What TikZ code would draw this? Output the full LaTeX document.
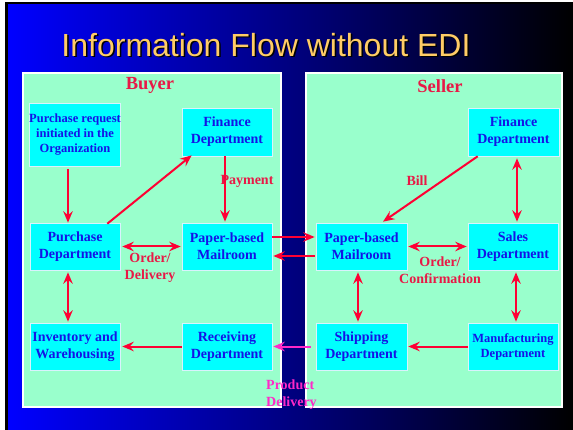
\documentclass[tikz,border=0pt]{standalone}
\usepackage{fontspec}
\setmainfont{Liberation Serif}
\newfontfamily\titlefont{Liberation Sans}
\usetikzlibrary{arrows.meta}
\definecolor{mint}{RGB}{153,255,204}
\definecolor{boxcyan}{RGB}{0,255,255}
\definecolor{txtblue}{RGB}{20,20,230}
\definecolor{lblred}{RGB}{232,25,70}
\definecolor{arrred}{RGB}{255,0,51}
\definecolor{prodmag}{RGB}{255,40,200}
\definecolor{titleyel}{RGB}{255,204,102}
\tikzset{
  panel/.style={draw=white, line width=2pt, fill=mint},
  dept/.style={draw=white!85!cyan, line width=0.6pt, fill=boxcyan, text=txtblue, font=\bfseries\fontsize{14}{17}\selectfont, align=center, inner sep=0pt, minimum width=90pt, minimum height=47pt},
  smalldept/.style={dept, font=\bfseries\fontsize{12.5}{15}\selectfont},
  flow/.style={draw=arrred, line width=2pt, -{Stealth[length=11.5pt,width=9.5pt,inset=4pt]}},
  bflow/.style={flow, {Stealth[length=11.5pt,width=9.5pt,inset=4pt]}-{Stealth[length=11.5pt,width=9.5pt,inset=4pt]}},
  pflow/.style={flow, draw=prodmag},
  lbl/.style={text=lblred, font=\bfseries\fontsize{14}{17}\selectfont, align=center, inner sep=0pt},
  side/.style={text=lblred, font=\bfseries\fontsize{18.5}{20}\selectfont, inner sep=0pt}
}
\begin{document}
\begin{tikzpicture}[x=1pt,y=-1pt]
\useasboundingbox (0,0) rectangle (573,430);
\fill[white] (0,0) rectangle (573,430);
\fill[black] (5,2) rectangle (573,430);
\shade[left color=blue, right color=black] (8,5) rectangle (573,430);
% title with drop shadow
\node[text=titleyel, font=\titlefont\fontsize{32}{36}\selectfont] (title) at (266,45) {\rlap{\raisebox{-1.5pt}[0pt][0pt]{\hspace*{1.5pt}\textcolor{black}{Information Flow without EDI}}}Information Flow without EDI};
% panels
\draw[panel] (23,73) rectangle (281,407);
\draw[panel] (306,73) rectangle (562,407);
\node[side] (buyer) at (150,85) {Buyer};
\node[side] (seller) at (440,86) {Seller};
% buyer boxes
\node[smalldept, minimum height=63pt] (preq) at (75,134.5) {Purchase request\\initiated in the\\Organization};
\node[dept, minimum height=48pt] (bfin) at (227,132) {Finance\\Department};
\node[dept] (bpur) at (75,246.5) {Purchase\\Department};
\node[dept] (bmail) at (227,246.5) {Paper-based\\Mailroom};
\node[dept] (binv) at (75,346.5) {Inventory and\\Warehousing};
\node[dept] (brec) at (227,346.5) {Receiving\\Department};
% seller boxes
\node[dept, minimum width=91pt, minimum height=48pt] (sfin) at (513.5,132) {Finance\\Department};
\node[dept, minimum width=91pt] (smail) at (361.5,246.5) {Paper-based\\Mailroom};
\node[dept] (ssales) at (513,246.5) {Sales\\Department};
\node[dept, minimum width=91pt] (sship) at (361.5,346.5) {Shipping\\Department};
\node[smalldept] (smanu) at (513,346.5) {Manufacturing\\Department};
% buyer arrows
\draw[flow, shorten <=3pt] ([xshift=-7pt]preq.south) -- ([xshift=-7pt]bpur.north);
\draw[flow] ([xshift=-13pt,yshift=-1pt]bpur.north east) -- ([xshift=10pt,yshift=1pt]bfin.south west);
\draw[flow] ([xshift=-2pt]bfin.south) -- ([xshift=-2pt,yshift=1pt]bmail.north);
\draw[bflow, shorten <=2pt, shorten >=1pt] (bpur.east) -- (bmail.west);
\draw[bflow, shorten <=2pt, shorten >=1pt] ([xshift=-7pt]bpur.south) -- ([xshift=-7pt]binv.north);
\draw[flow, shorten >=2pt] (brec.west) -- (binv.east);
% cross arrows
\draw[flow] ([yshift=9.5pt]bmail.east) -- ([yshift=9.5pt,xshift=-1pt]smail.west);
\draw[flow, shorten >=1pt] ([yshift=-9.5pt,xshift=-1pt]smail.west) -- ([yshift=-9.5pt]bmail.east);
\draw[pflow, shorten <=5pt, shorten >=1pt] (sship.west) -- (brec.east);
% seller arrows
\draw[flow] ([xshift=10pt]sfin.south west) -- ([xshift=21.5pt,yshift=1pt]smail.north);
\draw[bflow, shorten <=2pt, shorten >=1pt] ([xshift=3.5pt]sfin.south) -- ([xshift=4pt]ssales.north);
\draw[bflow, shorten <=1pt, shorten >=1pt] (smail.east) -- (ssales.west);
\draw[bflow, shorten <=2pt, shorten >=1pt] ([xshift=-3.5pt]smail.south) -- ([xshift=-3.5pt]sship.north);
\draw[bflow, shorten <=2pt, shorten >=1pt] ([xshift=3pt]ssales.south) -- ([xshift=3pt]smanu.north);
\draw[flow, shorten >=1pt] (smanu.west) -- (sship.east);
% labels
\node[lbl] (lpay) at (247,181) {Payment};
\node[lbl] (lbill) at (417,181) {Bill};
\node[lbl] (lod) at (150,268) {Order/\\Delivery};
\node[lbl] (loc) at (440,270.5) {Order/\\Confirmation};
\node[lbl, text=prodmag, align=left, anchor=west] (lprod) at (266,395) {Product\\Delivery};
\end{tikzpicture}
\end{document}
